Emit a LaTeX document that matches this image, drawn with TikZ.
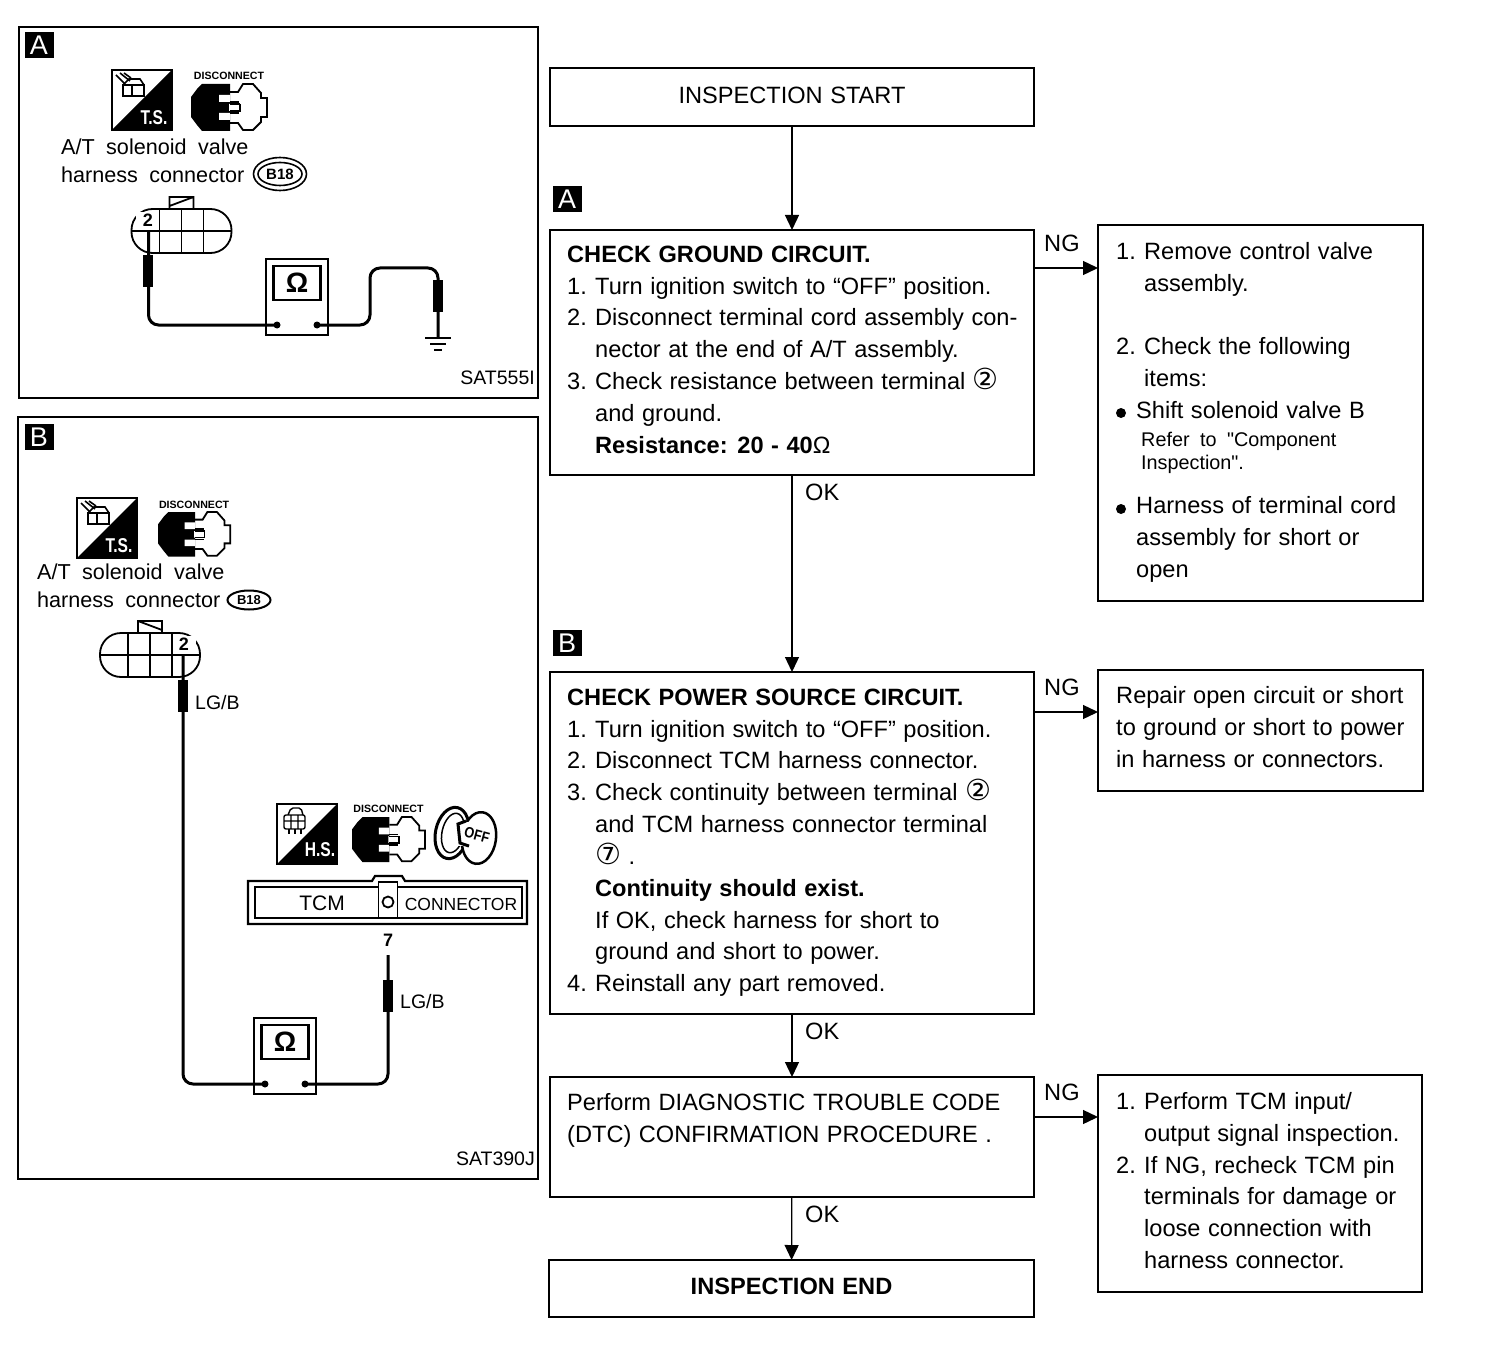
\documentclass[tikz,border=0pt]{standalone}
\usepackage{fontspec}
\setmainfont[WordSpace=1.15]{Liberation Sans}
\newfontfamily\symfont{DejaVu Sans}
\newfontfamily\rawface{Liberation Sans}
\newfontfamily\wideface[WordSpace=1.9]{Liberation Sans}
\usetikzlibrary{calc}
\usetikzlibrary{arrows.meta}
\usetikzlibrary{shapes.geometric}

\newcommand{\bodyfont}{\fontsize{23.6}{31.85}\selectfont}
\newcommand{\num}[1]{\makebox[28pt][l]{#1}}
\newcommand{\ringed}[1]{{\symfont\fontsize{29}{29}\selectfont #1}}

\tikzset{
  flowbox/.style={draw, line width=1.8pt, inner sep=0pt, outer sep=0pt, font=\bodyfont},
  lines/.style={anchor=north west, inner sep=0pt, align=left, font=\bodyfont},
  lab/.style={anchor=west, inner sep=0pt, font=\bodyfont},
  flow/.style={line width=1.3pt, -{Triangle[length=15pt, width=14pt]}},
  tag/.style={fill=black, text=white, inner sep=0pt, minimum width=29pt, minimum height=26pt, font=\fontsize{27}{27}\selectfont},
  wire/.style={line width=3pt, rounded corners=10pt},
  probe/.style={fill=black, inner sep=0pt, minimum width=10pt, minimum height=32pt},
  side/.style={inner sep=0pt, align=left, anchor=north west, font=\wideface\fontsize{21.6}{27.5}\selectfont},
  small/.style={inner sep=0pt, font=\fontsize{19.5}{19.5}\selectfont},
  dot/.style={circle, fill=black, inner sep=0pt, minimum size=7pt},
  disc/.pic={
    \node[inner sep=0pt, font=\bfseries\fontsize{10.6}{10}\selectfont] (-label) at (38,-8) {DISCONNECT};
    \fill (0,13) -- (6,5) -- (11,0) -- (39,0) -- (39,47) -- (11,47) -- (6,41) -- (0,33) -- cycle;
    \draw[line width=1.8pt] (39,8) -- (47,8) -- (52,0) -- (62,0) -- (70,9) -- (70,14) -- (76,14) -- (76,33) -- (70,33) -- (70,38) -- (62,46) -- (52,46) -- (47,39) -- (39,39);
    \fill[white] (28,11) rectangle (39,18) (38,20) rectangle (49,27) (28,29) rectangle (39,36);
    \draw[line width=1.4pt] (39,18) -- (48,18) (39,29) -- (48,29) (39,20) -- (49,20) (49,20) -- (49,27) -- (39,27);
  },
  testicon/.pic={
    \draw[line width=1.8pt] (0,0) rectangle (60,60);
    \fill (60,0) -- (60,60) -- (0,60) -- cycle;
  },
  ohmmeter/.pic={
    \draw[line width=2pt, fill=white] (0,0) rectangle (62,76);
    \node[draw, line width=2.2pt, inner sep=0pt, minimum width=47pt, minimum height=34pt, font=\bfseries\fontsize{28}{28}\selectfont] (-screen) at (31,24) {Ω};
    \node[dot] (-dotl) at (11,66) {};
    \node[dot] (-dotr) at (51,66) {};
    \coordinate (-left) at (11,66);
    \coordinate (-right) at (51,66);
  },
  plugshape/.pic={
    \draw[line width=1.8pt, rounded corners=21pt] (-50,-22) rectangle (50,22);
    \draw[line width=1.8pt] (-50,0) -- (50,0);
    \foreach \x in {-22, 0, 22} \draw[line width=1.8pt] (\x,-22) -- (\x,22);
    \draw[line width=1.8pt] (-12,-22) -- (-12,-34) -- (12,-34) -- (12,-22) (-12,-25) -- (12,-34);
    \fill[white] (-46,-19) rectangle (-24,-3);
    \coordinate (-two) at (-33,0);
  },
}

\begin{document}
\begin{tikzpicture}[x=1pt, y=-1pt]
\useasboundingbox (0,0) rectangle (1504,1348);

% left panels
\draw[line width=1.8pt] (19,27) rectangle (538,398);
\draw[line width=1.8pt] (18,417) rectangle (538,1179);
\node[tag] (tagA) at (39,45) {A};
\node[tag] (tagB) at (39,437) {B};
\node[anchor=east, small] (codeA) at (535,378) {SAT555I};
\node[anchor=east, small] (codeB) at (535,1159) {SAT390J};

% panel A
\pic (tsA) at (112,70) {testicon};
\node[inner sep=0pt, text=white, font=\bfseries\fontsize{20}{20}\selectfont, xscale=.78] (tsAtext) at (154,118) {T.S.};
\draw[line width=1.6pt] (123,85) rectangle (144,96) (132,85) -- (132,96) (123,85) -- (129,79) -- (140,79) -- (144,85);
\draw[line width=1.6pt] (116,75) -- (125,84) (120,73) -- (130,81) (124,73) -- (131,78);
\pic (discA) at (191,84) {disc};
\node[side] (textA) at (61,139) {A/T solenoid valve\\harness connector};
\node[ellipse, draw, line width=1.6pt, inner sep=0pt, minimum width=53pt, minimum height=33pt] (ovalA) at (280,174) {};
\node[ellipse, draw, line width=1.6pt, inner sep=0pt, minimum width=44pt, minimum height=23pt, font=\bfseries\fontsize{15}{15}\selectfont] (bA) at (280,174) {B18};
\pic (connA) at (181.5,231) {plugshape};
\node[inner sep=0pt, font=\bfseries\fontsize{18}{18}\selectfont] (twoA) at (148,220) {2};
\pic (meterA) at (266,259) {ohmmeter};
\draw[wire] (connA-two) -- (connA-two |- meterA-left) -- (meterA-left);
\node[probe] (probeA) at (148,271) {};
\coordinate (gndA) at (438,338);
\draw[wire] (meterA-right) -- (370,325) -- (370,268) -- (438,268) -- (gndA);
\node[probe] (probeAr) at (438,296) {};
\draw[line width=2pt] ($(gndA)+(-13,0)$) -- ($(gndA)+(13,0)$) ($(gndA)+(-8,6)$) -- ($(gndA)+(8,6)$) ($(gndA)+(-4,12)$) -- ($(gndA)+(4,12)$);

% panel B
\pic (tsB) at (77,498) {testicon};
\node[inner sep=0pt, text=white, font=\bfseries\fontsize{20}{20}\selectfont, xscale=.78] (tsBtext) at (119,546) {T.S.};
\draw[line width=1.6pt] (88,513) rectangle (109,524) (97,513) -- (97,524) (88,513) -- (94,507) -- (105,507) -- (109,513);
\draw[line width=1.6pt] (81,503) -- (90,512) (85,501) -- (95,509) (89,501) -- (96,506);
\pic[scale=.95] (discB) at (158,512) {disc};
\node[side] (textB) at (37,564) {A/T solenoid valve\\harness connector};
\node[ellipse, draw, line width=2pt, inner sep=0pt, minimum width=43pt, minimum height=19pt, font=\bfseries\fontsize{13}{13}\selectfont] (bB) at (249,600) {B18};
\pic[xscale=-1] (connB) at (150,655) {plugshape};
\node[inner sep=0pt, font=\bfseries\fontsize{18}{18}\selectfont] (twoB) at (184,644) {2};
\pic (meterB) at (254,1018) {ohmmeter};
\draw[wire] (connB-two) -- (connB-two |- meterB-left) -- (meterB-left);
\node[probe] (probeB) at (183,696) {};
\node[lab, font=\fontsize{19.5}{19.5}\selectfont] (lgbA) at (195,703) {LG/B};
\pic (tsH) at (277,804) {testicon};
\node[inner sep=0pt, text=white, font=\bfseries\fontsize{20}{20}\selectfont, xscale=.78] (tsHtext) at (320,850) {H.S.};
\draw[line width=1.4pt, rounded corners=2pt] (284,815) rectangle (305,829) (284,821) -- (305,821) (291,815) -- (291,829) (298,815) -- (298,829) (288,815) -- (291,808) -- (301,808) -- (303,815);
\draw[line width=1.4pt] (289,829) -- (289,834) (295,829) -- (295,834) (301,829) -- (301,834);
\pic[scale=.96] (discH) at (352,817) {disc};

% key
\node[ellipse, draw, line width=3pt, inner sep=0pt, minimum width=33pt, minimum height=52pt, rotate=-12] (ringout) at (452,833) {};
\node[ellipse, draw, line width=1.5pt, inner sep=0pt, minimum width=22pt, minimum height=40pt, rotate=-12] (ringin) at (453,833) {};
\node[ellipse, draw, line width=2.5pt, fill=white, inner sep=0pt, minimum width=34pt, minimum height=52pt, rotate=-8] (keyhead) at (479,838) {};
\fill[white] (458,822) rectangle (470,846);
\draw[line width=3pt] (466,821) -- (458,824) -- (460,843) -- (469,846);
\node[inner sep=0pt, rotate=-15, font=\bfseries\fontsize{15}{15}\selectfont, xscale=.85] (offtext) at (477,835) {OFF};

% TCM connector
\draw[line width=2.2pt] (248,881) -- (372,881) -- (375,876) -- (402,876) -- (405,881) -- (527,881) -- (527,924) -- (248,924) -- cycle;
\draw[line width=2.2pt] (255,887) rectangle (522,918);
\node[draw, line width=1.8pt, fill=white, inner sep=0pt, minimum width=19pt, minimum height=36pt] (cellT) at (388,900) {};
\node[circle, draw, line width=1.8pt, inner sep=0pt, minimum size=11pt] (holeT) at (388,902) {};
\node[inner sep=0pt, font=\fontsize{21}{21}\selectfont] (tcmT) at (322,903) {TCM};
\node[inner sep=0pt, font=\fontsize{17.5}{18}\selectfont] (conT) at (461,904) {CONNECTOR};
\node[inner sep=0pt, font=\bfseries\fontsize{18}{18}\selectfont] (seven) at (388,940) {7};
\coordinate (pinSeven) at (388,955);
\draw[wire] (meterB-right) -- (pinSeven |- meterB-right) -- (pinSeven);
\node[probe] (probeBr) at (388,996) {};
\node[lab, font=\fontsize{19.5}{19.5}\selectfont] (lgbB) at (400,1002) {LG/B};

% flow chart
\node[tag] (tagC) at (567,199) {A};
\node[tag] (tagD) at (567,643) {B};
\node[flowbox, minimum width=484pt, minimum height=58pt] (start) at (792,97) {\raisebox{3.5pt}{INSPECTION START}};
\node[flowbox, minimum width=484pt, minimum height=245pt] (boxA) at (792,352.5) {};
\node[flowbox, minimum width=484pt, minimum height=342pt] (boxB) at (792,843) {};
\node[flowbox, minimum width=484pt, minimum height=120pt] (boxC) at (792,1137) {};
\node[flowbox, line width=2.2pt, minimum width=485pt, minimum height=57pt, font=\bfseries\bodyfont] (finish) at (791.5,1288.5) {\raisebox{5pt}{INSPECTION END}};
\node[flowbox, minimum width=325pt, minimum height=376pt] (ngA) at (1260.5,413) {};
\node[flowbox, minimum width=325pt, minimum height=121pt] (ngB) at (1260.5,730.5) {};
\node[flowbox, minimum width=324pt, minimum height=217pt] (ngC) at (1260,1183.5) {};

\draw[flow] (start) -- (boxA);
\draw[flow] (boxA) -- (boxB);
\draw[flow] (boxB) -- (boxC);
\draw[flow] (boxC) -- (finish);
\draw[flow] (boxA.east |- 0,268) -- (ngA.west |- 0,268);
\draw[flow] (boxB.east |- 0,712) -- (ngB.west |- 0,712);
\draw[flow] (boxC.east |- 0,1117) -- (ngC.west |- 0,1117);

\node[lab] (okA) at (805,492) {OK};
\node[lab] (okB) at (805,1031) {OK};
\node[lab] (okC) at (805,1214) {OK};
\node[lab] (ngtextA) at (1044,243) {NG};
\node[lab] (ngtextB) at (1044,687) {NG};
\node[lab] (ngtextC) at (1044,1092) {NG};

\node[lines] (stepsA) at ($(boxA.north west)+(17,15.5)$) {\textbf{CHECK GROUND CIRCUIT.}\\
\num{1.}Turn ignition switch to “OFF” position.\\
\num{2.}Disconnect terminal cord assembly con-\\
\num{}nector at the end of A/T assembly.\\
\num{3.}Check resistance between terminal \ringed{②}\\
\num{}and ground.\\
\num{}\textbf{Resistance: 20 - 40{\mdseries Ω}}};

\node[lines] (stepsB) at ($(boxB.north west)+(17,16.5)$) {\textbf{CHECK POWER SOURCE CIRCUIT.}\\
\num{1.}Turn ignition switch to “OFF” position.\\
\num{2.}Disconnect TCM harness connector.\\
\num{3.}Check continuity between terminal \ringed{②}\\
\num{}and TCM harness connector terminal\\
\num{}\ringed{⑦} .\\
\num{}\textbf{Continuity should exist.}\\
\num{}If OK, check harness for short to\\
\num{}ground and short to power.\\
\num{4.}Reinstall any part removed.};

\node[lines] (stepsC) at ($(boxC.north west)+(17,16.5)$) {Perform DIAGNOSTIC TROUBLE CODE\\
(DTC) CONFIRMATION PROCEDURE .};

\node[lines] (fixAone) at ($(ngA.north west)+(18,17)$) {\num{1.}Remove control valve\\\num{}assembly.};
\node[lines] (fixAtwo) at ($(ngA.north west)+(18,112)$) {\num{2.}Check the following\\\num{}items:};
\node[dot, minimum size=10pt] (bulletA) at (1121,413) {};
\node[lines] (fixAthree) at ($(ngA.north west)+(38,176)$) {Shift solenoid valve B};
\node[lines, font=\rawface\fontsize{19.8}{23}\selectfont] (fixArefer) at ($(ngA.north west)+(43,207)$) {Refer to "Component\\Inspection".};
\node[dot, minimum size=10pt] (bulletB) at (1121,509) {};
\node[lines] (fixAfour) at ($(ngA.north west)+(38,271)$) {Harness of terminal cord\\assembly for short or\\open};

\node[lines] (fixB) at ($(ngB.north west)+(18,16)$) {Repair open circuit or short\\to ground or short to power\\in harness or connectors.};

\node[lines] (fixC) at ($(ngC.north west)+(18,17)$) {\num{1.}Perform TCM input/\\
\num{}output signal inspection.\\
\num{2.}If NG, recheck TCM pin\\
\num{}terminals for damage or\\
\num{}loose connection with\\
\num{}harness connector.};

\end{tikzpicture}
\end{document}
